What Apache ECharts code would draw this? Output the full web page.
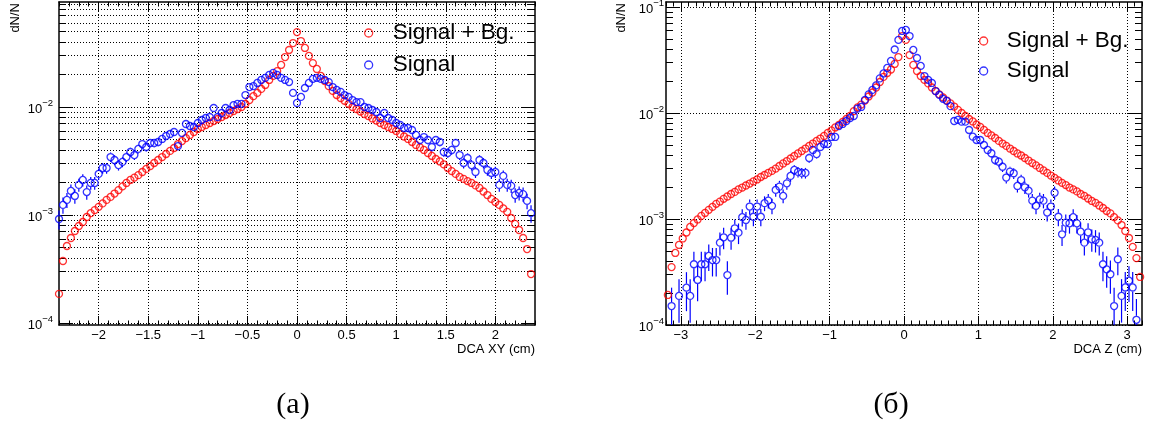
<!DOCTYPE html>
<html><head><meta charset="utf-8">
<script src="https://cdn.jsdelivr.net/npm/echarts@6/dist/echarts.min.js"></script>
<style>html,body{margin:0;padding:0;background:#fff}#c{width:1152px;height:425px}</style>
</head><body><div id="c"></div>
<script>
// ---------- DATA ----------
// Panel (a): DCA XY, 120 bins of 0.04 cm, first bin centre -2.40
const binStartA = -2.40, binStepA = 0.04;
const redA = [0.000186,0.000375,0.000516,0.000612,0.000711,0.000791,0.000861,0.000958,0.00104,0.00111,
0.00119,0.00128,0.00138,0.00147,0.00158,0.0017,0.00184,0.00198,0.00211,0.00222,
0.00234,0.0025,0.00267,0.00284,0.00303,0.00323,0.00344,0.00367,0.00392,0.00417,
0.00454,0.00484,0.00516,0.00551,0.00587,0.00626,0.00653,0.00681,0.00711,0.00742,
0.00774,0.00808,0.00843,0.0088,0.00918,0.00958,0.0100,0.0107,0.0116,0.0126,
0.0135,0.0147,0.016,0.0178,0.0194,0.0215,0.0245,0.029,0.0337,0.0391,
0.0494,0.0408,0.0352,0.0297,0.0255,0.0225,0.0194,0.0174,0.0156,0.0141,
0.0129,0.0121,0.0114,0.0107,0.0100,0.00958,0.00908,0.00861,0.00825,0.00783,
0.0075,0.00711,0.00681,0.00653,0.00626,0.0060,0.00562,0.00533,0.00506,0.00474,
0.00445,0.00422,0.0040,0.00375,0.00352,0.0033,0.00313,0.00294,0.00272,0.00255,
0.0024,0.00225,0.00216,0.00206,0.00198,0.00188,0.00178,0.00165,0.00153,0.00141,
0.00132,0.00124,0.00115,0.00107,0.000938,0.000826,0.000726,0.000612,0.000484,0.000284];
const blueA = [0.000918,0.00124,0.00138,0.00167,0.0015,0.0019,0.00211,0.00163,0.00198,0.00198,
0.0024,0.00272,0.00272,0.00344,0.00323,0.0029,0.0031,0.00344,0.00383,0.00359,
0.00409,0.00454,0.00426,0.00464,0.00464,0.00474,0.00506,0.00539,0.00562,0.00587,
0.00435,0.00575,0.00696,0.00667,0.00653,0.00711,0.00758,0.00791,0.00808,0.00979,
0.00808,0.0088,0.00979,0.00938,0.0104,0.0107,0.0107,0.0129,0.0153,0.0156,
0.0167,0.0178,0.0186,0.0198,0.0207,0.0198,0.0186,0.0178,0.017,0.0135,
0.0109,0.0124,0.015,0.0167,0.0182,0.0186,0.0182,0.0178,0.017,0.0153,
0.0144,0.0138,0.0129,0.0124,0.0116,0.0111,0.0111,0.0100,0.00979,0.00938,
0.00899,0.00791,0.0088,0.00791,0.00758,0.00711,0.00681,0.00639,0.00639,0.00612,
0.00551,0.00495,0.00527,0.00495,0.00426,0.00495,0.00474,0.00383,0.00375,0.0040,
0.00464,0.00359,0.00303,0.00337,0.0029,0.0025,0.00323,0.00303,0.00261,0.00245,
0.0025,0.0019,0.0023,0.0019,0.00186,0.00153,0.0016,0.00156,0.00135,0.00104];
// relative statistical errors of the Signal points
const blueAErr = [0.2,0.17,0.16,0.147,0.155,0.138,0.13,0.149,0.135,0.135,
0.122,0.115,0.115,0.102,0.106,0.111,0.108,0.102,0.097,0.1,
0.094,0.089,0.092,0.088,0.088,0.087,0.084,0.082,0.08,0.078,
0.091,0.079,0.072,0.073,0.074,0.071,0.069,0.067,0.067,0.061,
0.067,0.064,0.061,0.062,0.059,0.058,0.058,0.053,0.049,0.048,
0.046,0.045,0.044,0.043,0.042,0.043,0.044,0.045,0.046,0.052,
0.057,0.054,0.049,0.046,0.044,0.044,0.044,0.045,0.046,0.049,
0.05,0.051,0.053,0.054,0.056,0.057,0.057,0.06,0.061,0.062,
0.063,0.067,0.064,0.067,0.069,0.071,0.073,0.075,0.075,0.077,
0.081,0.085,0.083,0.085,0.092,0.085,0.087,0.097,0.098,0.095,
0.088,0.1,0.109,0.103,0.111,0.12,0.106,0.109,0.117,0.121,
0.12,0.138,0.125,0.138,0.139,0.153,0.15,0.152,0.163,0.186];

// Panel (б): DCA Z, 128 bins of 0.05 cm, first bin centre -3.175
const binStartB = -3.175, binStepB = 0.05;
const redB = [0.000192,0.000352,0.000478,0.000569,0.000655,0.000746,0.000841,0.000916,0.00099,0.00107,
0.00114,0.00122,0.0013,0.00139,0.00146,0.00155,0.00163,0.00172,0.0018,0.0019,
0.00198,0.00207,0.00216,0.00226,0.00236,0.00249,0.0026,0.00272,0.00284,0.00299,
0.00316,0.00334,0.00352,0.00372,0.00393,0.00415,0.00438,0.00462,0.00489,0.00515,
0.00545,0.00574,0.00607,0.00648,0.00684,0.0073,0.0077,0.00822,0.00877,0.00938,
0.0104,0.0113,0.012,0.0131,0.0143,0.0156,0.0174,0.0196,0.0219,0.0238,
0.0257,0.029,0.0337,0.0532,
0.0489,0.0352,0.0284,0.0249,0.0223,0.0205,0.019,0.0174,0.0161,0.015,
0.014,0.0131,0.0123,0.0115,0.0107,0.0100,0.00938,0.00877,0.00832,0.00779,
0.00738,0.00692,0.00648,0.00614,0.00581,0.00545,0.00515,0.00489,0.00462,0.00438,
0.00415,0.00397,0.00376,0.00356,0.00337,0.0032,0.00303,0.00287,0.00272,0.00257,
0.00244,0.00231,0.00219,0.00209,0.00198,0.0019,0.00182,0.00172,0.00165,0.00156,
0.00148,0.00142,0.00134,0.00127,0.00119,0.00113,0.00104,0.00097,0.000877,0.00077,
0.000662,0.000545,0.000428,0.000284];
const blueB = [null,0.000151,null,0.000188,null,0.000225,0.000188,0.000374,0.000266,0.000374,
0.000374,0.000448,0.00041,0.00041,0.000598,0.000672,0.000296,0.000666,0.000817,0.000743,
0.00104,0.000979,0.00131,0.00105,0.00131,0.00105,0.00141,0.00149,0.00133,0.00188,
0.00202,0.00165,0.00217,0.00255,0.0029,0.00278,0.00272,0.00272,0.00376,0.00448,
0.0041,0.00478,0.0051,0.0051,0.00594,0.00594,0.00754,0.00788,0.0084,0.00897,
0.00937,0.011,0.0114,0.0133,0.015,0.0165,0.0182,0.0212,0.0236,0.0266,
0.031,0.0397,0.0489,0.0594,
0.0607,0.0532,0.0393,0.033,0.0278,0.0223,0.0205,0.0192,0.0161,0.0148,
0.0136,0.013,0.0116,0.0084,0.0086,0.00828,0.00828,0.00691,0.00598,0.00556,
0.00556,0.00499,0.00448,0.00417,0.0036,0.00347,0.00311,0.00246,0.0028,0.0027,
0.00205,0.00233,0.00199,0.00185,0.00149,0.00133,0.00153,0.00149,0.00115,0.00131,
0.00177,0.00105,0.000717,0.000923,0.00091,0.00104,0.00091,0.000759,0.000598,0.000749,
0.000643,0.000634,0.000598,0.000374,0.000335,0.000301,0.000151,0.000417,0.000188,0.000226,
0.000262,0.000226,0.000112,null];
const blueBErr = [0,0.49,0,0.44,0,0.4,0.44,0.31,0.37,0.31,
0.31,0.28,0.3,0.3,0.245,0.23,0.35,0.23,0.21,0.22,
0.185,0.19,0.165,0.185,0.165,0.185,0.16,0.155,0.165,0.14,
0.134,0.148,0.13,0.12,0.11,0.114,0.115,0.115,0.098,0.09,
0.094,0.087,0.084,0.084,0.078,0.078,0.069,0.068,0.065,0.063,
0.062,0.057,0.056,0.052,0.049,0.047,0.044,0.041,0.039,0.037,
0.034,0.03,0.027,0.025,
0.024,0.026,0.03,0.033,0.036,0.04,0.042,0.043,0.047,0.049,
0.051,0.053,0.056,0.065,0.065,0.066,0.066,0.072,0.078,0.08,
0.08,0.085,0.09,0.093,0.1,0.102,0.108,0.121,0.113,0.115,
0.133,0.124,0.134,0.14,0.155,0.165,0.153,0.155,0.177,0.166,
0.143,0.185,0.224,0.197,0.2,0.186,0.2,0.218,0.245,0.22,
0.237,0.238,0.245,0.31,0.33,0.345,0.49,0.294,0.44,0.4,
0.37,0.4,0.57,0];

// tick labels
const xTicksA = [-2, -1.5, -1, -0.5, 0, 0.5, 1, 1.5, 2];
const xTicksB = [-3, -2, -1, 0, 1, 2, 3];
const yTicksA = [1e-4, 1e-3, 1e-2];
const yTicksB = [1e-4, 1e-3, 1e-2, 1e-1];
const seriesNames = ['Signal + Bg.', 'Signal'];
const xTitles = ['DCA XY (cm)', 'DCA Z (cm)'];
const yTitle = 'dN/N';
const captions = ['(a)', '(б)'];

// ---------- BUILD ----------
const FONT = '"Liberation Sans", Arial, Helvetica, sans-serif';
const RED = '#ff0000', BLUE = '#0000ff';

function centers(start, step, n) { const a = []; for (let i = 0; i < n; i++) a.push(+(start + step * i).toFixed(4)); return a; }
const xA = centers(binStartA, binStepA, redA.length);
const xB = centers(binStartB, binStepB, redB.length);
function pts(xs, ys) { const d = []; ys.forEach((v, i) => { if (v != null) d.push([xs[i], v]); }); return d; }
function errs(xs, ys, rel) { const d = []; ys.forEach((v, i) => { if (v != null && rel[i] > 0) d.push([xs[i], v, v * (1 - rel[i]), v * (1 + rel[i])]); }); return d; }

const panels = [
  { grid: { left: 59, top: 2, width: 476, height: 323 }, xMin: -2.4, xMax: 2.4, yMin: 9.58e-5, yMax: 0.0938,
    xMajor: xTicksA, yMajor: yTicksA, yMinorGrid: true, yLabelMargin: 6,
    xs: xA, red: redA, blue: blueA, err: blueAErr },
  { grid: { left: 666, top: 2, width: 476, height: 323 }, xMin: -3.2, xMax: 3.2, yMin: 1e-4, yMax: 0.1114,
    xMajor: xTicksB, yMajor: yTicksB, yMinorGrid: false, yLabelMargin: 2,
    xs: xB, red: redB, blue: blueB, err: blueBErr }
];

function xMinorTicks(p) {
  const out = [];
  for (let i = Math.ceil(p.xMin * 10 - 1e-6); i <= Math.floor(p.xMax * 10 + 1e-6); i++) {
    const v = i / 10;
    if (!p.xMajor.some(m => Math.abs(m - v) < 1e-9)) out.push(v);
  }
  return out;
}
function yMinorTicks(p) {
  const out = [];
  for (let e = Math.floor(Math.log10(p.yMin)); e <= Math.ceil(Math.log10(p.yMax)); e++) {
    for (let m = 2; m <= 9; m++) {
      const v = Number((m * Math.pow(10, e)).toPrecision(3));
      if (v >= p.yMin && v <= p.yMax) out.push(v);
    }
  }
  return out;
}

const dotted = { color: '#000', width: 1, type: [1, 2] };
const frame = { color: '#000', width: 1.5 };
const fmtX = v => (v < 0 ? '\u2212' + Math.abs(v) : String(v));
const fmtY = v => { const e = Math.round(Math.log10(v)); return '{b|10}{s|' + (e < 0 ? '\u2212' + (-e) : e) + '}'; };

const xAxis = [], yAxis = [], grid = [], series = [];
panels.forEach((p, gi) => {
  grid.push(Object.assign({ outerBoundsMode: 'none', containLabel: false }, p.grid));
  const xm = xMinorTicks(p), ym = yMinorTicks(p);
  const baseX = { gridIndex: gi, type: 'value', min: p.xMin, max: p.xMax, minorTick: { show: false }, minorSplitLine: { show: false } };
  xAxis.push(Object.assign({}, baseX, {
    position: 'bottom',
    axisLine: { show: true, onZero: false, lineStyle: frame },
    axisTick: { show: true, inside: true, length: 9, customValues: p.xMajor, lineStyle: { color: '#000', width: 1 } },
    axisLabel: { show: true, customValues: p.xMajor, formatter: fmtX, margin: 4, color: '#000', fontFamily: FONT, fontSize: 13 },
    splitLine: { show: true, lineStyle: dotted }
  }));
  xAxis.push(Object.assign({}, baseX, {
    position: 'top',
    axisLine: { show: true, onZero: false, lineStyle: frame },
    axisTick: { show: true, inside: true, length: 9, customValues: p.xMajor, lineStyle: { color: '#000', width: 1 } },
    axisLabel: { show: false }, splitLine: { show: false }
  }));
  xAxis.push(Object.assign({}, baseX, {
    position: 'bottom',
    axisLine: { show: false, onZero: false },
    axisTick: { show: true, inside: true, length: 4.5, customValues: xm, lineStyle: { color: '#000', width: 1 } },
    axisLabel: { show: false }, splitLine: { show: false }
  }));
  xAxis.push(Object.assign({}, baseX, {
    position: 'top',
    axisLine: { show: false, onZero: false },
    axisTick: { show: true, inside: true, length: 4.5, customValues: xm, lineStyle: { color: '#000', width: 1 } },
    axisLabel: { show: false }, splitLine: { show: false }
  }));

  const baseY = { gridIndex: gi, type: 'log', logBase: 10, min: p.yMin, max: p.yMax, minorTick: { show: false }, minorSplitLine: { show: false } };
  yAxis.push(Object.assign({}, baseY, {
    position: 'left',
    axisLine: { show: true, onZero: false, lineStyle: frame },
    axisTick: { show: true, inside: true, length: 14, customValues: p.yMajor, lineStyle: { color: '#000', width: 1 } },
    axisLabel: { show: true, customValues: p.yMajor, formatter: fmtY, margin: p.yLabelMargin, color: '#000',
      rich: { b: { fontFamily: FONT, fontSize: 13, color: '#000', lineHeight: 18, verticalAlign: 'bottom' },
              s: { fontFamily: FONT, fontSize: 9.5, color: '#000', lineHeight: 10, verticalAlign: 'top' } } },
    splitLine: { show: true, lineStyle: dotted }
  }));
  yAxis.push(Object.assign({}, baseY, {
    position: 'right',
    axisLine: { show: true, onZero: false, lineStyle: frame },
    axisTick: { show: true, inside: true, length: 14, customValues: p.yMajor, lineStyle: { color: '#000', width: 1 } },
    axisLabel: { show: false }, splitLine: { show: false }
  }));
  yAxis.push(Object.assign({}, baseY, {
    position: 'left',
    axisLine: { show: false, onZero: false },
    axisTick: { show: true, inside: true, length: 7, customValues: ym, lineStyle: { color: '#000', width: 1 } },
    axisLabel: { show: false }, splitLine: { show: p.yMinorGrid, lineStyle: dotted }
  }));
  yAxis.push(Object.assign({}, baseY, {
    position: 'right',
    axisLine: { show: false, onZero: false },
    axisTick: { show: true, inside: true, length: 7, customValues: ym, lineStyle: { color: '#000', width: 1 } },
    axisLabel: { show: false }, splitLine: { show: false }
  }));

  const xi = gi * 4, yi = gi * 4;
  const mk = (name, color, data) => ({
    name, type: 'scatter', xAxisIndex: xi, yAxisIndex: yi, data,
    symbol: 'circle', symbolSize: 7, z: 3,
    itemStyle: { color: 'rgba(0,0,0,0)', borderColor: color, borderWidth: 1.3 },
    emphasis: { disabled: true }, silent: true
  });
  series.push(mk(seriesNames[0], RED, pts(p.xs, p.red)));
  series.push(mk(seriesNames[1], BLUE, pts(p.xs, p.blue)));
  const yMinP = p.yMin;
  series.push({
    name: 'err' + gi, type: 'custom', xAxisIndex: xi, yAxisIndex: yi, z: 3, silent: true,
    data: errs(p.xs, p.blue, p.err), encode: { x: 0, y: 1 },
    renderItem: function (params, api) {
      const x = api.value(0), v = api.value(1), lo = api.value(2), hi = api.value(3);
      const c = api.coord([x, v]);
      const top = api.coord([x, hi])[1];
      const bot = api.coord([x, Math.max(lo, yMinP)])[1];
      const gap = 4, ch = [];
      if (top < c[1] - gap) ch.push({ type: 'line', shape: { x1: c[0], y1: top, x2: c[0], y2: c[1] - gap }, style: { stroke: BLUE, lineWidth: 1.2 } });
      if (bot > c[1] + gap) ch.push({ type: 'line', shape: { x1: c[0], y1: c[1] + gap, x2: c[0], y2: bot }, style: { stroke: BLUE, lineWidth: 1.2 } });
      return { type: 'group', children: ch };
    }
  });
});

const legendBase = {
  data: seriesNames, orient: 'vertical', icon: 'circle', itemHeight: 8, selectedMode: false,
  itemStyle: { borderWidth: 1.3 },
  textStyle: { fontFamily: FONT, fontSize: 22.5, color: '#000', lineHeight: 26 }
};
const legend = [
  Object.assign({}, legendBase, { left: 359, top: 15, itemWidth: 38, itemGap: 6 }),
  Object.assign({}, legendBase, { left: 974, top: 23, itemWidth: 36, itemGap: 4 })
];

const txt = (text, x, y, font, align, valign, extra) => Object.assign({
  type: 'text', x, y, silent: true,
  style: { text, font, fill: '#000', textAlign: align, textVerticalAlign: valign }
}, extra || {});

const graphic = [
  txt(yTitle, 15, 3, '13px ' + FONT, 'right', 'middle', { rotation: Math.PI / 2 }),
  txt(yTitle, 621, 3, '13px ' + FONT, 'right', 'middle', { rotation: Math.PI / 2 }),
  txt(xTitles[0], 535, 349, '13px ' + FONT, 'right', 'middle'),
  txt(xTitles[1], 1142, 349, '13px ' + FONT, 'right', 'middle'),
  txt(captions[0], 293, 405, '30px "Liberation Serif", "DejaVu Serif", serif', 'center', 'middle'),
  txt(captions[1], 891, 405, '30px "Liberation Serif", "DejaVu Serif", serif', 'center', 'middle')
];

const chart = echarts.init(document.getElementById('c'), null, { renderer: 'canvas' });
chart.setOption({
  animation: false, backgroundColor: '#fff',
  grid, xAxis, yAxis, series, legend, graphic
});
</script></body></html>
